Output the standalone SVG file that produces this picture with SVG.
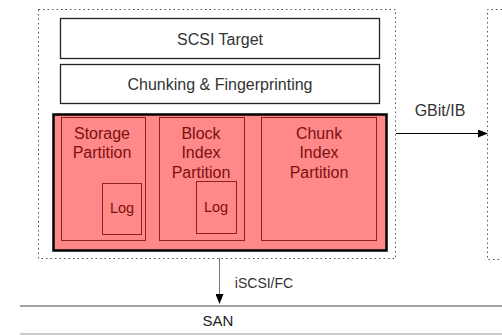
<svg xmlns="http://www.w3.org/2000/svg" width="502" height="335" viewBox="0 0 502 335">
<style>
text{font-family:"Liberation Sans",Arial,sans-serif;text-anchor:middle;dominant-baseline:central}
.dot{fill:none;stroke:#555;stroke-width:1;stroke-dasharray:1.5 3}
.wbox{fill:#fff;stroke:#222;stroke-width:1.3}
.part{fill:#ff8888;stroke:#8b2323;stroke-width:1}
.pt{fill:#7a1010;font-size:16px}
.lt{fill:#7a1010;font-size:14.5px}
.lbl{fill:#333;font-size:16px}
</style>
<defs>
<marker id="ah" markerWidth="10" markerHeight="8" refX="9" refY="4" orient="auto" markerUnits="userSpaceOnUse">
<path d="M0,0 L10,4 L0,8 Z" fill="#000"/>
</marker>
</defs>
<g id="server">
<rect class="dot" x="38.5" y="9.5" width="357" height="249"/>
</g>
<g id="remote">
<path class="dot" d="M502,9.5 H487.5 V259.5 H502"/>
</g>
<g id="scsi-target">
<rect class="wbox" x="60.5" y="18.5" width="319" height="40"/>
<text class="lbl" x="220" y="39">SCSI Target</text>
</g>
<g id="chunking">
<rect class="wbox" x="60.5" y="64.5" width="319" height="39"/>
<text class="lbl" x="220" y="84">Chunking &amp; Fingerprinting</text>
</g>
<g id="storage-area">
<rect x="53.5" y="114.5" width="333" height="136" fill="#ff8888" stroke="#000" stroke-width="2.5"/>
</g>
<g id="storage-partition">
<rect class="part" x="61.5" y="117.5" width="84" height="123"/>
<text class="pt" x="102" y="133">Storage</text>
<text class="pt" x="102" y="152">Partition</text>
</g>
<g id="storage-log">
<rect class="part" x="102.5" y="183.5" width="39" height="51"/>
<text class="lt" x="122" y="208">Log</text>
</g>
<g id="block-index-partition">
<rect class="part" x="159.5" y="117.5" width="85" height="123"/>
<text class="pt" x="201" y="133">Block</text>
<text class="pt" x="201" y="152">Index</text>
<text class="pt" x="201" y="172">Partition</text>
</g>
<g id="block-log">
<rect class="part" x="196.5" y="181.5" width="40" height="52"/>
<text class="lt" x="216" y="207">Log</text>
</g>
<g id="chunk-index-partition">
<rect class="part" x="261.5" y="117.5" width="115" height="123"/>
<text class="pt" x="319" y="133">Chunk</text>
<text class="pt" x="319" y="152">Index</text>
<text class="pt" x="319" y="172">Partition</text>
</g>
<g id="san">
<line x1="20" y1="306" x2="502" y2="306" stroke="#444" stroke-width="1"/>
<line x1="20" y1="334" x2="502" y2="334" stroke="#999" stroke-width="1"/>
<text class="lbl" x="218" y="320" style="fill:#222;font-size:15px">SAN</text>
</g>
<g id="connectors">
<line x1="396" y1="133.5" x2="487" y2="133.5" stroke="#000" stroke-width="1" marker-end="url(#ah)"/>
<text class="lbl" x="440" y="110">GBit/IB</text>
<line x1="219.5" y1="258" x2="219.5" y2="303" stroke="#777" stroke-width="1" marker-end="url(#ah)"/>
<text class="lbl" x="264" y="283" style="font-size:14px">iSCSI/FC</text>
</g>
</svg>
